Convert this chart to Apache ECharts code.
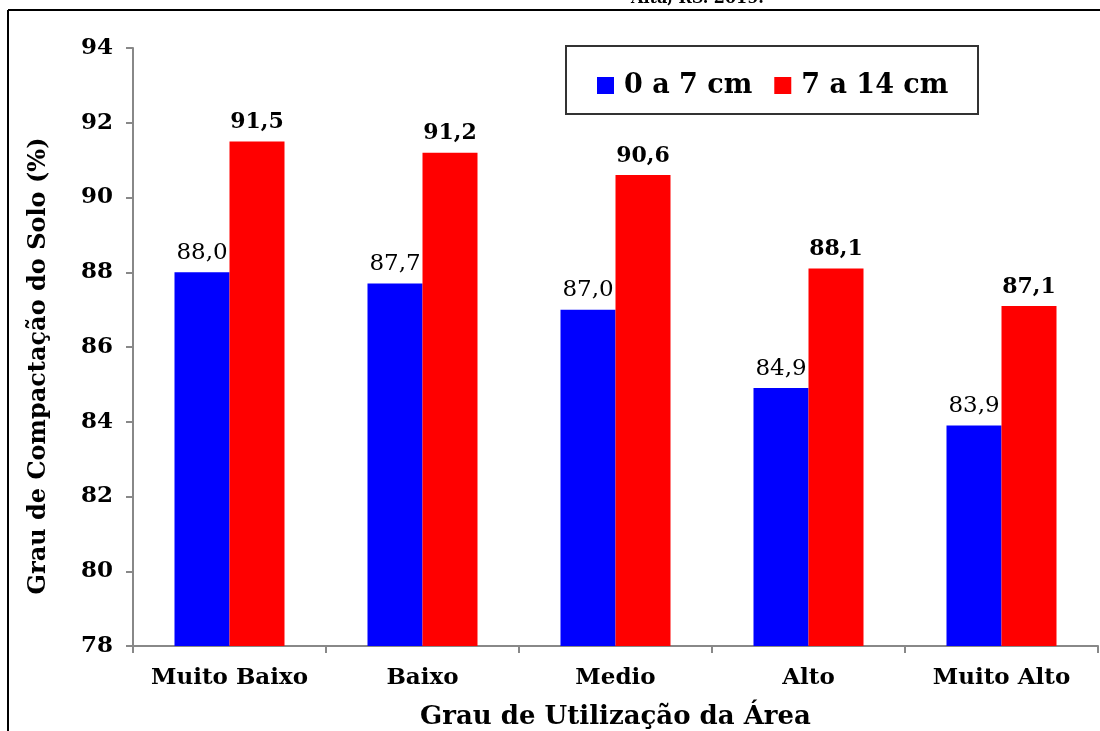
<!DOCTYPE html>
<html>
<head>
<meta charset="utf-8">
<script src="https://cdn.jsdelivr.net/npm/echarts@6/dist/echarts.min.js"></script>
<style>
  html, body { margin: 0; padding: 0; background: #fff; }
  #chart { width: 1100px; height: 731px; }
</style>
</head>
<body>
<div id="chart"></div>
<script>
// Grau de compactação por classe de utilização da área
const categories = ['Muito Baixo', 'Baixo', 'Medio', 'Alto', 'Muito Alto'];
const seriesNames = ['0 a 7 cm', '7 a 14 cm'];
const depth0to7 = [88.0, 87.7, 87.0, 84.9, 83.9];
const depth7to14 = [91.5, 91.2, 90.6, 88.1, 87.1];
const yTicks = [78, 80, 82, 84, 86, 88, 90, 92, 94];

const serif = '"DejaVu Serif", "Liberation Serif", serif';
const fmt = p => p.value.toFixed(1).replace('.', ',');

const chart = echarts.init(document.getElementById('chart'), null, { renderer: 'canvas' });
chart.setOption({
  backgroundColor: '#fff',
  animation: false,
  graphic: [
    { type: 'text', left: 631, top: -9,
      style: { text: 'Aita, RS. 2019.', font: 'bold 16px ' + serif, fill: '#000' } },
    { type: 'line', shape: { x1: 8, y1: 10, x2: 1100, y2: 10 },
      style: { stroke: '#000', lineWidth: 2 } },
    { type: 'line', shape: { x1: 8, y1: 10, x2: 8, y2: 731 },
      style: { stroke: '#000', lineWidth: 2 } },
    { type: 'rect', shape: { x: 566, y: 46, width: 412, height: 68 },
      style: { fill: 'none', stroke: '#333', lineWidth: 2 }, z: 1 }
  ],
  legend: {
    data: seriesNames,
    left: 592, top: 67,
    itemWidth: 17, itemHeight: 17, itemGap: 22,
    icon: 'rect',
    textStyle: { fontFamily: serif, fontWeight: 'bold', fontSize: 27, color: '#000',
      padding: [0, 0, 0, 5] }
  },
  grid: { left: 133, right: 2, top: 48, bottom: 85, outerBoundsMode: 'none' },
  xAxis: {
    type: 'category',
    data: categories,
    axisLine: { lineStyle: { color: '#888', width: 2 } },
    axisTick: { show: true, interval: 0, length: 7, lineStyle: { color: '#888', width: 2 } },
    axisLabel: { interval: 0, margin: 21, fontFamily: serif, fontWeight: 'bold', fontSize: 23, color: '#000' },
    name: 'Grau de Utilização da Área',
    nameLocation: 'middle',
    nameGap: 58,
    nameTextStyle: { fontFamily: serif, fontWeight: 'bold', fontSize: 26, color: '#000' }
  },
  yAxis: {
    type: 'value',
    min: yTicks[0], max: yTicks[yTicks.length - 1], interval: 2,
    splitLine: { show: false },
    axisLine: { show: true, lineStyle: { color: '#888', width: 2 } },
    axisTick: { show: true, length: 7, lineStyle: { color: '#888', width: 2 } },
    axisLabel: { margin: 20, fontFamily: serif, fontWeight: 'bold', fontSize: 23, color: '#000' },
    name: 'Grau de Compactação do Solo (%)',
    nameLocation: 'middle',
    nameGap: 82,
    nameTextStyle: { fontFamily: serif, fontWeight: 'bold', fontSize: 24, color: '#000',
      padding: [0, 38, 0, 0] }
  },
  series: [
    {
      name: seriesNames[0], type: 'bar', data: depth0to7,
      barGap: '0%', barCategoryGap: '43%',
      itemStyle: { color: '#0000ff' },
      label: { show: true, position: 'top', distance: 8, formatter: fmt,
        fontFamily: serif, fontSize: 23, color: '#000' }
    },
    {
      name: seriesNames[1], type: 'bar', data: depth7to14,
      itemStyle: { color: '#ff0000' },
      label: { show: true, position: 'top', distance: 8, formatter: fmt,
        fontFamily: serif, fontWeight: 'bold', fontSize: 22, color: '#000' }
    }
  ]
});
</script>
</body>
</html>
